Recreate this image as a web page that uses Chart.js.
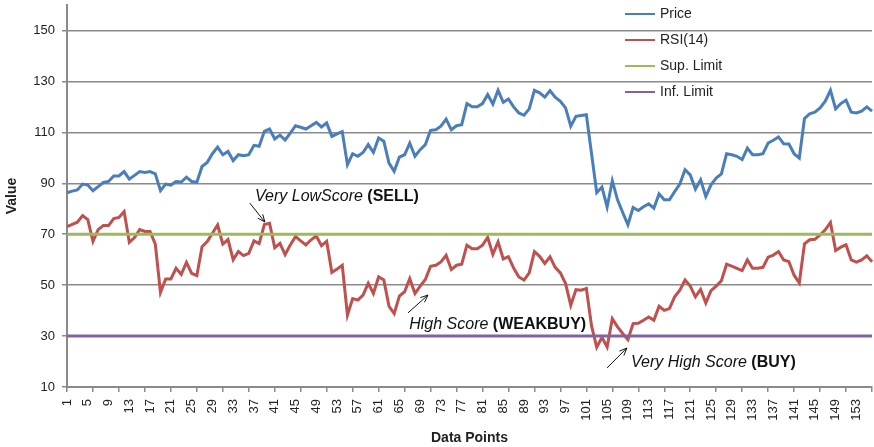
<!DOCTYPE html>
<html>
<head>
<meta charset="utf-8">
<title>Price and RSI(14)</title>
<script src="https://cdn.jsdelivr.net/npm/chart.js@4.4.1/dist/chart.umd.min.js"></script>
<style>
  html, body { margin: 0; padding: 0; background: #fff; }
  #wrap { width: 874px; height: 447px; position: relative; }
</style>
</head>
<body>
<div id="wrap"><canvas id="chart"></canvas></div>
<script>
// data points 1..156
const points = Array.from({ length: 156 }, (_, i) => String(i + 1));

const price = [
  86.3, 86.9, 87.4, 89.7, 89.3, 87.1, 88.7, 90.3, 90.7, 92.9,
  92.9, 94.6, 91.6, 93.1, 94.6, 94.2, 94.6, 93.7, 87.1, 89.7,
  89.3, 90.7, 90.5, 92.4, 90.7, 90.4, 96.6, 98.2, 101.6, 104.2,
  101.2, 102.5, 98.9, 101.2, 100.8, 101.2, 104.9, 104.5, 110.4, 111.3,
  107.4, 108.9, 107.0, 109.7, 112.6, 112.0, 111.3, 112.6, 113.9, 112.1,
  113.7, 108.4, 109.4, 110.3, 97.3, 101.6, 100.6, 102.1, 105.2, 102.1,
  107.8, 106.5, 97.9, 94.7, 100.3, 101.2, 105.8, 100.6, 103.2, 105.2,
  110.8, 111.0, 112.4, 115.2, 111.0, 112.6, 113.0, 121.3, 120.0, 120.0,
  121.3, 124.8, 121.1, 126.5, 121.8, 123.1, 120.0, 117.6, 116.7, 119.2,
  126.5, 125.5, 123.8, 126.4, 123.8, 122.2, 119.6, 112.4, 116.3, 116.6,
  116.9, 101.6, 86.3, 88.5, 80.7, 91.0, 83.5, 78.5, 73.7, 80.5,
  79.3, 80.8, 81.9, 80.2, 85.8, 83.5, 83.5, 86.7, 89.7, 95.3,
  93.3, 87.7, 91.4, 84.8, 89.4, 92.0, 93.7, 101.6, 101.2, 100.6,
  99.3, 103.8, 101.2, 101.2, 101.6, 105.8, 106.9, 108.2, 105.5, 105.4,
  101.6, 99.9, 115.4, 117.3, 117.9, 119.6, 122.2, 126.5, 119.2, 121.3,
  122.6, 117.9, 117.6, 118.3, 120.0, 118.3
];

const rsi = [
  73.0, 73.9, 74.7, 77.3, 75.7, 67.2, 71.8, 73.4, 73.4, 76.1,
  76.6, 78.9, 66.8, 68.7, 71.8, 71.1, 71.1, 66.1, 47.1, 52.4,
  52.4, 56.6, 54.2, 58.9, 54.6, 53.7, 65.1, 67.1, 70.4, 73.6,
  66.1, 67.9, 60.0, 63.2, 61.6, 62.5, 67.4, 66.3, 73.8, 74.3,
  64.7, 66.4, 62.0, 65.8, 69.1, 67.4, 65.8, 67.8, 69.3, 65.5,
  67.2, 55.0, 56.3, 57.8, 38.2, 44.7, 44.1, 46.1, 50.7, 46.7,
  53.3, 52.0, 41.7, 38.8, 45.7, 47.4, 52.6, 46.7, 49.6, 52.2,
  57.4, 57.8, 59.1, 61.7, 56.1, 57.8, 58.2, 65.7, 64.3, 64.3,
  65.7, 68.7, 62.1, 67.0, 60.3, 61.2, 56.7, 53.2, 52.0, 54.8,
  63.2, 61.3, 58.5, 61.1, 57.0, 54.8, 50.6, 42.1, 48.2, 48.0,
  48.7, 34.0, 25.6, 29.5, 25.7, 36.8, 33.6, 31.0, 28.6, 34.9,
  35.0, 36.2, 37.5, 36.2, 41.7, 40.1, 40.8, 45.4, 48.0, 52.0,
  49.6, 45.4, 48.3, 43.0, 47.8, 49.6, 51.7, 58.2, 57.5, 56.6,
  55.7, 59.9, 56.6, 56.6, 57.0, 61.0, 61.8, 63.2, 59.9, 59.2,
  53.9, 50.9, 66.2, 67.8, 68.0, 69.7, 71.7, 74.6, 63.6, 64.9,
  65.8, 59.9, 59.0, 59.9, 61.5, 59.2
];

const SUP_LIMIT = 70;
const INF_LIMIT = 30;

const yTicks = [10, 30, 50, 70, 90, 110, 130, 150];

// signal notes: text anchor, arrow tail and arrow tip, as [point index, value]
const notes = [
  { lead: 'Very LowScore', tag: '(SELL)', at: [36.2, 84.6], from: [35.2, 82.2], to: [38.1, 74.8] },
  { lead: 'High Score', tag: '(WEAKBUY)', at: [65.9, 34.7], from: [65.65, 39.1], to: [69.5, 46.1] },
  { lead: 'Very High Score', tag: '(BUY)', at: [108.6, 19.5], from: [104.0, 17.5], to: [107.8, 25.3] },
];

const FONT = '"Liberation Sans", Arial, Helvetica, sans-serif';
const GRID = '#8a8a8a';
const TEXT = '#222';

const notesPlugin = {
  id: 'notes',
  afterDatasetsDraw(chart) {
    const { ctx, scales: { x, y } } = chart;
    ctx.save();
    ctx.fillStyle = '#111';
    ctx.strokeStyle = '#111';
    ctx.lineWidth = 1;
    ctx.textBaseline = 'middle';
    for (const n of notes) {
      const tx = x.getPixelForValue(n.at[0]), ty = y.getPixelForValue(n.at[1]);
      ctx.font = 'italic 16px ' + FONT;
      ctx.fillText(n.lead + ' ', tx, ty);
      const w = ctx.measureText(n.lead + ' ').width;
      ctx.font = 'bold 16px ' + FONT;
      ctx.fillText(n.tag, tx + w, ty);

      const x0 = x.getPixelForValue(n.from[0]), y0 = y.getPixelForValue(n.from[1]);
      const x1 = x.getPixelForValue(n.to[0]), y1 = y.getPixelForValue(n.to[1]);
      const a = Math.atan2(y1 - y0, x1 - x0);
      const h = 8;
      ctx.beginPath();
      ctx.moveTo(x0, y0);
      ctx.lineTo(x1, y1);
      ctx.moveTo(x1 - h * Math.cos(a - 0.4), y1 - h * Math.sin(a - 0.4));
      ctx.lineTo(x1, y1);
      ctx.lineTo(x1 - h * Math.cos(a + 0.4), y1 - h * Math.sin(a + 0.4));
      ctx.stroke();
    }
    ctx.restore();
  }
};

// vertical legend inside the top right of the plot
const legendPlugin = {
  id: 'sideLegend',
  afterDatasetsDraw(chart) {
    const { ctx, chartArea } = chart;
    const left = chartArea.right - 247;
    ctx.save();
    ctx.font = '14px ' + FONT;
    ctx.textBaseline = 'middle';
    chart.data.datasets.forEach((ds, i) => {
      const cy = chartArea.top + 9 + i * 26;
      ctx.strokeStyle = ds.borderColor;
      ctx.lineWidth = 2;
      ctx.beginPath();
      ctx.moveTo(left, cy);
      ctx.lineTo(left + 30, cy);
      ctx.stroke();
      ctx.fillStyle = TEXT;
      ctx.fillText(ds.label, left + 35, cy);
    });
    ctx.restore();
  }
};

const lineDefaults = { pointRadius: 0, pointHoverRadius: 0, borderWidth: 3, tension: 0, fill: false };

new Chart(document.getElementById('chart'), {
  type: 'line',
  data: {
    labels: points,
    datasets: [
      { ...lineDefaults, label: 'Price', data: price, borderColor: '#4a7ebb', order: 4 },
      { ...lineDefaults, label: 'RSI(14)', data: rsi, borderColor: '#c0504d', order: 3 },
      { ...lineDefaults, label: 'Sup. Limit', data: points.map(() => SUP_LIMIT), borderColor: '#9bbb59', order: 2 },
      { ...lineDefaults, label: 'Inf. Limit', data: points.map(() => INF_LIMIT), borderColor: '#8064a2', order: 1 },
    ]
  },
  options: {
    responsive: true,
    maintainAspectRatio: false,
    animation: false,
    layout: { padding: { top: 5, right: 2, left: 0, bottom: 0 } },
    plugins: { legend: { display: false }, tooltip: { enabled: false } },
    scales: {
      x: {
        type: 'category',
        offset: false,
        afterFit: s => { s.height = 60; s.paddingLeft = 0; s.paddingRight = 0; },
        border: { display: true, color: GRID, width: 2 },
        grid: {
          drawOnChartArea: false,
          drawTicks: true,
          tickLength: 5,
          lineWidth: 1.5,
          color: c => (c.index % 5 === 0 ? GRID : 'rgba(0,0,0,0)'),
        },
        ticks: {
          autoSkip: false,
          maxRotation: 90,
          minRotation: 90,
          padding: 7,
          color: TEXT,
          font: { family: FONT, size: 13 },
          callback: (v, i) => (i % 4 === 0 ? points[i] : ''),
        },
        title: {
          display: true,
          text: 'Data Points',
          color: TEXT,
          font: { family: FONT, size: 14, weight: 'bold' },
          padding: { top: 0, bottom: 0 },
        },
      },
      y: {
        min: 10,
        max: 160,
        afterFit: s => { s.width = 67; s.paddingTop = 0; s.paddingBottom = 0; },
        afterBuildTicks: s => { s.ticks = yTicks.map(v => ({ value: v })); },
        border: { display: true, color: GRID, width: 2 },
        grid: { color: GRID, lineWidth: 1.5, tickLength: 5 },
        ticks: {
          padding: 7,
          color: TEXT,
          font: { family: FONT, size: 13 },
        },
        title: {
          display: true,
          text: 'Value',
          color: TEXT,
          font: { family: FONT, size: 14, weight: 'bold' },
          padding: { top: 4, bottom: 0 },
        },
      }
    }
  },
  plugins: [notesPlugin, legendPlugin]
});
</script>
</body>
</html>
